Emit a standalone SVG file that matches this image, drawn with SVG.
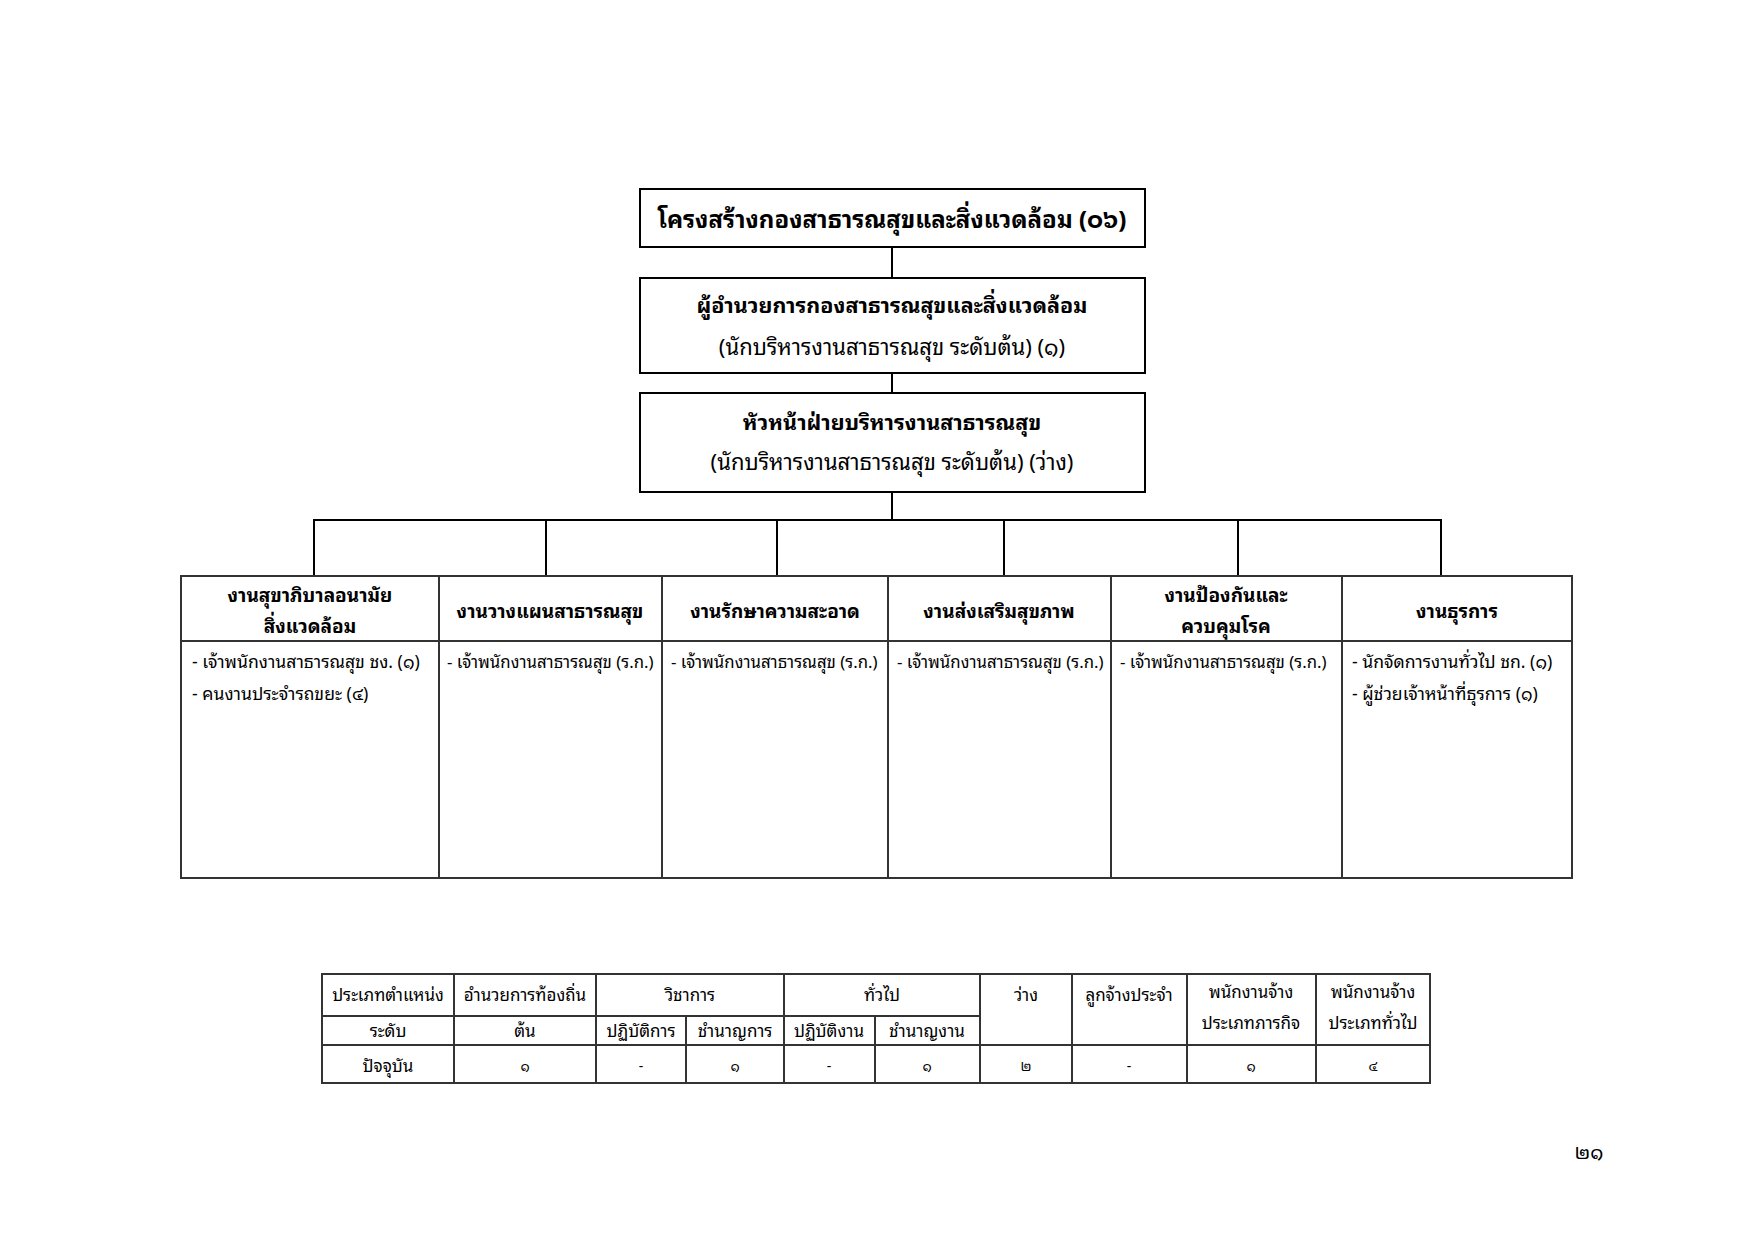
<svg xmlns="http://www.w3.org/2000/svg" width="1754" height="1240" viewBox="0 0 1754 1240">
<style>
text{font-family:"Noto Sans Thai Looped","Noto Sans Thai","Noto Sans","DejaVu Sans",sans-serif;fill:#000;text-anchor:middle}
.box{fill:#fff;stroke:#000;stroke-width:2}
.ln{stroke:#000;stroke-width:2;fill:none}
.tl{stroke:#333;stroke-width:2;fill:none}
.t1{font-size:24px;font-weight:bold}
.hb{font-size:21.5px;font-weight:bold}
.hr{font-size:22px}
.ch{font-size:19px;font-weight:bold}
.cc{font-size:17.6px;text-anchor:start}
.cr{font-size:16.8px;text-anchor:start}
.bt{font-size:17px}
.bn{font-size:14px}
</style>
<rect width="1754" height="1240" fill="#fff"/>
<g id="connectors">
<line class="ln" x1="892" y1="247" x2="892" y2="278"/>
<line class="ln" x1="892" y1="373" x2="892" y2="393"/>
<line class="ln" x1="892" y1="492" x2="892" y2="520"/>
<polyline class="ln" points="314,576 314,520 1441,520 1441,576"/>
<line class="ln" x1="546" y1="520" x2="546" y2="576"/>
<line class="ln" x1="777" y1="520" x2="777" y2="576"/>
<line class="ln" x1="1004" y1="520" x2="1004" y2="576"/>
<line class="ln" x1="1238" y1="520" x2="1238" y2="576"/>
</g>
<g id="title">
<rect class="box" x="640" y="189" width="505" height="58"/>
<text class="t1" x="892" y="228">โครงสร้างกองสาธารณสุขและสิ่งแวดล้อม (๐๖)</text>
</g>
<g id="director">
<rect class="box" x="640" y="278" width="505" height="95"/>
<text class="hb" x="892" y="313">ผู้อำนวยการกองสาธารณสุขและสิ่งแวดล้อม</text>
<text class="hr" x="892" y="355">(นักบริหารงานสาธารณสุข ระดับต้น) (๑)</text>
</g>
<g id="head">
<rect class="box" x="640" y="393" width="505" height="99"/>
<text class="hb" x="892" y="430">หัวหน้าฝ่ายบริหารงานสาธารณสุข</text>
<text class="hr" x="892" y="470">(นักบริหารงานสาธารณสุข ระดับต้น) (ว่าง)</text>
</g>
<g id="units">
<rect class="tl" x="181" y="576" width="1391" height="302"/>
<line class="tl" x1="181" y1="641" x2="1572" y2="641"/>
<line class="tl" x1="439" y1="576" x2="439" y2="878"/>
<line class="tl" x1="662" y1="576" x2="662" y2="878"/>
<line class="tl" x1="888" y1="576" x2="888" y2="878"/>
<line class="tl" x1="1111" y1="576" x2="1111" y2="878"/>
<line class="tl" x1="1342" y1="576" x2="1342" y2="878"/>
</g>
<g id="unit1">
<text class="ch" x="310" y="602">งานสุขาภิบาลอนามัย</text>
<text class="ch" x="310" y="633">สิ่งแวดล้อม</text>
<text class="cc" x="192" y="668">- เจ้าพนักงานสาธารณสุข ชง. (๑)</text>
<text class="cc" x="192" y="700">- คนงานประจำรถขยะ (๔)</text>
</g>
<g id="unit2">
<text class="ch" x="550" y="618">งานวางแผนสาธารณสุข</text>
<text class="cr" x="447" y="668">- เจ้าพนักงานสาธารณสุข (ร.ก.)</text>
</g>
<g id="unit3">
<text class="ch" x="775" y="618">งานรักษาความสะอาด</text>
<text class="cr" x="671" y="668">- เจ้าพนักงานสาธารณสุข (ร.ก.)</text>
</g>
<g id="unit4">
<text class="ch" x="999" y="618">งานส่งเสริมสุขภาพ</text>
<text class="cr" x="897" y="668">- เจ้าพนักงานสาธารณสุข (ร.ก.)</text>
</g>
<g id="unit5">
<text class="ch" x="1226" y="602">งานป้องกันและ</text>
<text class="ch" x="1226" y="633">ควบคุมโรค</text>
<text class="cr" x="1120" y="668">- เจ้าพนักงานสาธารณสุข (ร.ก.)</text>
</g>
<g id="unit6">
<text class="ch" x="1457" y="618">งานธุรการ</text>
<text class="cc" x="1352" y="668">- นักจัดการงานทั่วไป ชก. (๑)</text>
<text class="cc" x="1352" y="700">- ผู้ช่วยเจ้าหน้าที่ธุรการ (๑)</text>
</g>
<g id="summary">
<rect class="tl" x="322" y="974" width="1108" height="109"/>
<line class="tl" x1="322" y1="1016" x2="980" y2="1016"/>
<line class="tl" x1="322" y1="1045" x2="1430" y2="1045"/>
<line class="tl" x1="454" y1="974" x2="454" y2="1083"/>
<line class="tl" x1="596" y1="974" x2="596" y2="1083"/>
<line class="tl" x1="686" y1="1016" x2="686" y2="1083"/>
<line class="tl" x1="784" y1="974" x2="784" y2="1083"/>
<line class="tl" x1="875" y1="1016" x2="875" y2="1083"/>
<line class="tl" x1="980" y1="974" x2="980" y2="1083"/>
<line class="tl" x1="1072" y1="974" x2="1072" y2="1083"/>
<line class="tl" x1="1187" y1="974" x2="1187" y2="1083"/>
<line class="tl" x1="1316" y1="974" x2="1316" y2="1083"/>
<text class="bt" x="388" y="1001">ประเภทตำแหน่ง</text>
<text class="bt" x="525" y="1001">อำนวยการท้องถิ่น</text>
<text class="bt" x="690" y="1001">วิชาการ</text>
<text class="bt" x="882" y="1001">ทั่วไป</text>
<text class="bt" x="1026" y="1001">ว่าง</text>
<text class="bt" x="1129" y="1001">ลูกจ้างประจำ</text>
<text class="bt" x="1251" y="998">พนักงานจ้าง</text>
<text class="bt" x="1251" y="1029">ประเภทภารกิจ</text>
<text class="bt" x="1373" y="998">พนักงานจ้าง</text>
<text class="bt" x="1373" y="1029">ประเภททั่วไป</text>
<text class="bt" x="388" y="1037">ระดับ</text>
<text class="bt" x="525" y="1037">ต้น</text>
<text class="bt" x="641" y="1037">ปฏิบัติการ</text>
<text class="bt" x="735" y="1037">ชำนาญการ</text>
<text class="bt" x="829" y="1037">ปฏิบัติงาน</text>
<text class="bt" x="927" y="1037">ชำนาญงาน</text>
<text class="bt" x="388" y="1072">ปัจจุบัน</text>
<text class="bn" x="525" y="1071">๑</text>
<text class="bn" x="641" y="1071">-</text>
<text class="bn" x="735" y="1071">๑</text>
<text class="bn" x="829" y="1071">-</text>
<text class="bn" x="927" y="1071">๑</text>
<text class="bn" x="1026" y="1071">๒</text>
<text class="bn" x="1129" y="1071">-</text>
<text class="bn" x="1251" y="1071">๑</text>
<text class="bn" x="1373" y="1071">๔</text>
</g>
<text x="1589" y="1159" style="font-size:20px">๒๑</text>
</svg>
